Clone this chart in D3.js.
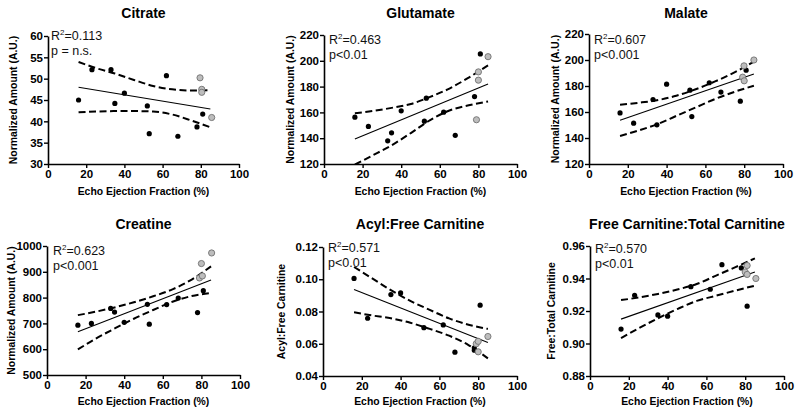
<!DOCTYPE html>
<html>
<head>
<meta charset="utf-8">
<script src="https://cdn.jsdelivr.net/npm/d3@7"></script>
<style>
  html, body { margin: 0; padding: 0; background: #fff; }
  svg { display: block; font-family: "Liberation Sans", Arial, sans-serif; }
</style>
</head>
<body>
<svg id="chart" width="800" height="413"></svg>
<script>
// ---------------- DATA ----------------
const xTickValues = [0, 20, 40, 60, 80, 100];
const xLabel = "Echo Ejection Fraction (%)";

// Citrate
const citrateBlackX = [16, 23, 33, 35, 40, 52, 53, 62, 68, 78, 81];
const citrateBlackY = [45.0, 52.1, 52.1, 44.2, 46.6, 43.6, 37.1, 50.7, 36.5, 38.7, 41.7];
const citrateGreyX = [79.6, 80.5, 80.5, 85.7];
const citrateGreyY = [50.2, 47.5, 46.8, 40.9];
const citrateFitX = [16, 85];
const citrateFitY = [48.0, 42.9];
const bandX = [16, 25, 35, 45, 55, 65, 75, 85];
const citrateUpper = [53.9, 52.5, 51.2, 49.7, 48.3, 47.5, 47.2, 47.3];
const citrateLower = [42.1, 42.3, 42.4, 42.4, 42.3, 41.6, 40.2, 38.6];
const citrateTicks = [30, 35, 40, 45, 50, 55, 60];

// Glutamate
const glutamateBlackX = [16, 23, 33, 35, 40, 52, 53, 62, 68, 78, 81];
const glutamateBlackY = [156.3, 149.1, 138.0, 144.2, 161.2, 153.2, 171.0, 160.2, 142.2, 172.3, 205.3];
const glutamateGreyX = [80, 80, 79, 85];
const glutamateGreyY = [191.4, 185.0, 154.3, 203.2];
const glutamateFitY = [139.3, 182.1];
const glutamateUpper = [159.4, 161.0, 163.5, 166.5, 172.0, 178.5, 187.0, 196.5];
const glutamateLower = [119.5, 126.5, 134.5, 144.0, 154.0, 161.5, 165.5, 168.5];
const glutamateTicks = [120, 140, 160, 180, 200, 220];

// Malate
const malateBlackX = [16, 23, 33, 35, 40, 52, 53, 62, 68, 78, 81];
const malateBlackY = [159.3, 151.4, 169.6, 150.1, 181.4, 176.8, 156.5, 182.5, 175.3, 168.3, 192.2];
const malateGreyX = [79.9, 79.2, 80, 85];
const malateGreyY = [195.5, 186.8, 184.0, 200.0];
const malateFitY = [153.7, 189.2];
const malateUpper = [165.5, 167.0, 169.0, 172.5, 177.5, 183.5, 190.5, 198.7];
const malateLower = [141.6, 145.5, 150.5, 157.0, 163.5, 170.0, 175.5, 180.2];
const malateTicks = [120, 140, 160, 180, 200, 220];

// Creatine
const creatineBlackX = [16, 23, 33, 35, 40, 52, 53, 62, 68, 78, 81];
const creatineBlackY = [693, 700, 758, 744, 704, 774, 697, 773, 798, 742, 827];
const creatineGreyX = [80, 79, 80.5, 85.3];
const creatineGreyY = [932, 876, 884, 973];
const creatineFitY = [667.5, 868.6];
const creatineUpper = [732, 745, 762, 782, 805, 832, 870, 921];
const creatineLower = [599, 640, 680, 718, 752, 784, 806, 818];
const creatineTicks = [500, 600, 700, 800, 900, 1000];

// Acyl:Free Carnitine
const acylBlackX = [16, 23, 35, 40, 52, 62, 68, 78, 78, 81];
const acylBlackY = [0.1005, 0.0758, 0.0905, 0.0915, 0.0700, 0.0717, 0.0548, 0.0575, 0.0560, 0.0839];
const acylGreyX = [79, 80, 80, 85];
const acylGreyY = [0.0600, 0.0615, 0.0550, 0.0645];
const acylFitY = [0.0936, 0.0608];
const acylUpper = [0.1076, 0.1008, 0.0932, 0.0866, 0.0810, 0.0757, 0.0718, 0.0692];
const acylLower = [0.0795, 0.0776, 0.0758, 0.0730, 0.0692, 0.0650, 0.0592, 0.0509];
const acylTicks = [0.04, 0.06, 0.08, 0.10, 0.12];

// Free Carnitine:Total Carnitine
const freeBlackX = [16, 23, 35, 40, 52, 62, 68, 78, 81];
const freeBlackY = [0.9089, 0.9297, 0.9176, 0.9168, 0.9350, 0.9334, 0.9485, 0.9465, 0.9230];
const freeGreyX = [81, 80, 81, 85.5];
const freeGreyY = [0.9480, 0.9440, 0.9425, 0.9400];
const freeFitY = [0.915, 0.944];
const freeUpper = [0.9267, 0.9283, 0.9305, 0.9332, 0.9366, 0.9418, 0.9470, 0.9524];
const freeLower = [0.9033, 0.9093, 0.9155, 0.9212, 0.9262, 0.9294, 0.9326, 0.9356];
const freeTicks = [0.88, 0.90, 0.92, 0.94, 0.96];

const titles = ["Citrate", "Glutamate", "Malate", "Creatine", "Acyl:Free Carnitine", "Free Carnitine:Total Carnitine"];
const yLabels = ["Normalized Amount (A.U.)", "Normalized Amount (A.U.)", "Normalized Amount (A.U.)",
                 "Normalized Amount (A.U.)", "Acyl:Free Carnitine", "Free:Total Carnitine"];
const r2Labels = ["0.113", "0.463", "0.607", "0.623", "0.571", "0.570"];
const pLabels = ["p = n.s.", "p<0.01", "p<0.001", "p<0.001", "p<0.01", "p<0.01"];

// ---------------- LAYOUT ----------------
const panels = [
  { bx: citrateBlackX, by: citrateBlackY, gx: citrateGreyX, gy: citrateGreyY, fit: citrateFitY, up: citrateUpper, lo: citrateLower, ticks: citrateTicks, fmt: d3.format("d"),
    x0: 48, x1: 239, yTop: 36, yBot: 164, titleY: 17.5, xLabY: 195, yLabX: 13, annX: 51, annY: 40 },
  { bx: glutamateBlackX, by: glutamateBlackY, gx: glutamateGreyX, gy: glutamateGreyY, fit: glutamateFitY, up: glutamateUpper, lo: glutamateLower, ticks: glutamateTicks, fmt: d3.format("d"),
    x0: 324, x1: 517, yTop: 35, yBot: 164, titleY: 17.5, xLabY: 195, yLabX: 290, annX: 329, annY: 44 },
  { bx: malateBlackX, by: malateBlackY, gx: malateGreyX, gy: malateGreyY, fit: malateFitY, up: malateUpper, lo: malateLower, ticks: malateTicks, fmt: d3.format("d"),
    x0: 589, x1: 783, yTop: 34, yBot: 164, titleY: 17.5, xLabY: 195, yLabX: 555, annX: 594, annY: 43.5 },
  { bx: creatineBlackX, by: creatineBlackY, gx: creatineGreyX, gy: creatineGreyY, fit: creatineFitY, up: creatineUpper, lo: creatineLower, ticks: creatineTicks, fmt: d3.format("d"),
    x0: 47, x1: 240, yTop: 246, yBot: 375, titleY: 228.5, xLabY: 405, yLabX: 11, annX: 53, annY: 255 },
  { bx: acylBlackX, by: acylBlackY, gx: acylGreyX, gy: acylGreyY, fit: acylFitY, up: acylUpper, lo: acylLower, ticks: acylTicks, fmt: d3.format(".2f"),
    x0: 323, x1: 517, yTop: 247, yBot: 376, titleY: 228.5, xLabY: 405, yLabX: 281, annX: 328, annY: 251.5 },
  { bx: freeBlackX, by: freeBlackY, gx: freeGreyX, gy: freeGreyY, fit: freeFitY, up: freeUpper, lo: freeLower, ticks: freeTicks, fmt: d3.format(".2f"),
    x0: 590, x1: 784, yTop: 246, yBot: 376, titleY: 228.5, xLabY: 405, yLabX: 551, annX: 595, annY: 253 }
];

const svg = d3.select("#chart");

panels.forEach((p, i) => {
  const g = svg.append("g");
  const x = d3.scaleLinear().domain([0, 100]).range([p.x0, p.x1]);
  const y = d3.scaleLinear().domain([p.ticks[0], p.ticks[p.ticks.length - 1]]).range([p.yBot, p.yTop]);
  const cx = (p.x0 + p.x1) / 2, cy = (p.yTop + p.yBot) / 2;

  // clip
  const clipId = "clip" + i;
  svg.append("clipPath").attr("id", clipId).append("rect")
    .attr("x", p.x0).attr("y", p.yTop - 10).attr("width", p.x1 - p.x0 + 10).attr("height", p.yBot - p.yTop + 10);

  // axes
  const xAxis = g.append("g").attr("transform", `translate(0,${p.yBot})`)
    .call(d3.axisBottom(x).tickValues(xTickValues).tickSize(4).tickSizeOuter(0).tickPadding(2));
  const yAxis = g.append("g").attr("transform", `translate(${p.x0},0)`)
    .call(d3.axisLeft(y).tickValues(p.ticks).tickFormat(p.fmt).tickSize(4).tickSizeOuter(0).tickPadding(1));
  [xAxis, yAxis].forEach(a => {
    a.select(".domain").attr("stroke", "#000").attr("stroke-width", 1.6);
    a.selectAll(".tick line").attr("stroke", "#000").attr("stroke-width", 1.4);
    a.selectAll(".tick text").attr("fill", "#000").attr("font-size", 11.5).attr("font-weight", "bold")
      .attr("font-family", "'Liberation Sans', Arial, sans-serif");
  });

  // title
  g.append("text").attr("x", cx).attr("y", p.titleY).attr("text-anchor", "middle")
    .attr("font-size", 14).attr("font-weight", "bold").text(titles[i]);
  // x label
  g.append("text").attr("x", cx).attr("y", p.xLabY).attr("text-anchor", "middle")
    .attr("font-size", 10.4).attr("font-weight", "bold").text(xLabel);
  // y label
  g.append("text").attr("transform", `translate(${p.yLabX + 3.7},${cy}) rotate(-90)`)
    .attr("text-anchor", "middle").attr("font-size", 10.4).attr("font-weight", "bold").text(yLabels[i]);

  // annotation
  const ann = g.append("text").attr("x", p.annX).attr("y", p.annY).attr("font-size", 12.5).attr("fill", "#111");
  ann.append("tspan").text("R");
  ann.append("tspan").attr("font-size", 8).attr("dy", -5).text("2");
  ann.append("tspan").attr("dy", 5).text("=" + r2Labels[i]);
  g.append("text").attr("x", p.annX).attr("y", p.annY + 15).attr("font-size", 12.5).attr("fill", "#111").text(pLabels[i]);

  const plot = g.append("g").attr("clip-path", `url(#${clipId})`);
  // confidence band
  const bandLine = d3.line().x((d, j) => x(bandX[j])).y(d => y(d)).curve(d3.curveMonotoneX);
  [p.up, p.lo].forEach(arr => {
    plot.append("path").attr("d", bandLine(arr)).attr("fill", "none").attr("stroke", "#000")
      .attr("stroke-width", 2).attr("stroke-dasharray", "7,3.5");
  });
  // fit line
  plot.append("path").attr("d", d3.line().x((d, j) => x(citrateFitX[j])).y(d => y(d))(p.fit))
    .attr("fill", "none").attr("stroke", "#000").attr("stroke-width", 1.1);

  // points
  g.selectAll(".blk").data(p.bx).enter().append("circle")
    .attr("cx", d => x(d)).attr("cy", (d, j) => y(p.by[j])).attr("r", 2.6).attr("fill", "#000");
  g.selectAll(".gry").data(p.gx).enter().append("circle")
    .attr("cx", d => x(d)).attr("cy", (d, j) => y(p.gy[j])).attr("r", 3.1)
    .attr("fill", "#bdbdbd").attr("stroke", "#707070").attr("stroke-width", 0.9);
});
</script>
</body>
</html>
